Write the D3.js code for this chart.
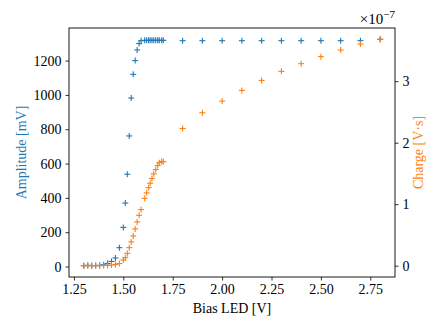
<!DOCTYPE html>
<html>
<head>
<meta charset="utf-8">
<script src="https://cdn.jsdelivr.net/npm/d3@7"></script>
<style>
  html, body { margin: 0; padding: 0; background: #fff; }
  svg { display: block; }
  text { font-family: "Liberation Serif", "DejaVu Serif", serif; }
</style>
</head>
<body>
<svg id="chart" width="443" height="332"></svg>
<script>
// ---- data ----
const biasLED = [1.30,1.32,1.34,1.36,1.38,1.40,1.42,1.44,1.46,1.48,
                 1.50,1.51,1.52,1.53,1.54,1.55,1.56,1.57,1.58,1.59,
                 1.608,1.618,1.628,1.636,1.645,1.654,1.664,1.674,1.682,1.694,1.702,
                 1.8,1.9,2.0,2.1,2.2,2.3,2.4,2.5,2.6,2.7,2.8];
const amplitude = [5,7,5,6,7,10,18,30,50,110,
                   228,370,538,761,982,1120,1200,1262,1299,1316,
                   1318,1318,1318,1318,1318,1318,1318,1318,1318,1318,1318,
                   1316,1316,1316,1316,1316,1316,1316,1316,1316,1316,1324];
// charge in units of 1e-7 V·s
const chargeE7 = [0,0,0,0,0,0.003,0.005,0.01,0.02,0.035,
                  0.093,0.13,0.2,0.293,0.386,0.484,0.598,0.712,0.819,0.912,
                  1.096,1.184,1.27,1.34,1.417,1.493,1.564,1.629,1.675,1.695,1.69,
                  2.231,2.487,2.676,2.85,3.013,3.16,3.285,3.399,3.507,3.604,3.681];
const xTicks = [1.25,1.50,1.75,2.00,2.25,2.50,2.75];
const yLeftTicks = [0,200,400,600,800,1000,1200];
const yRightTicks = [0,1,2,3];
const xLabel = "Bias LED [V]";
const yLeftLabel = "Amplitude [mV]";
const yRightLabel = "Charge [V·s]";

// ---- layout ----
const margin = {left: 69, right: 48, top: 28, bottom: 55};
const W = 443, H = 332;
const pw = W - margin.left - margin.right;
const ph = H - margin.top - margin.bottom;
const blue = "#1f77b4", orange = "#ff7f0e";

function padded(arr) {
  const [a, b] = d3.extent(arr);
  const p = (b - a) * 0.05;
  return [a - p, b + p];
}

const x = d3.scaleLinear().domain(padded(biasLED)).range([0, pw]);
const yL = d3.scaleLinear().domain(padded(amplitude)).range([ph, 0]);
const yR = d3.scaleLinear().domain(padded(chargeE7)).range([ph, 0]);

const svg = d3.select("#chart");
const g = svg.append("g").attr("transform", `translate(${margin.left},${margin.top})`);

// axes
function styleAxis(sel) {
  sel.selectAll(".domain").remove();
  sel.selectAll(".tick line").attr("stroke", "#000").attr("stroke-width", 0.8);
  sel.selectAll(".tick text").attr("fill", "#000").style("font-size", "14px")
     .style("font-family", '"Liberation Serif", "DejaVu Serif", serif');
}
const gx = g.append("g").attr("transform", `translate(0,${ph})`)
  .call(d3.axisBottom(x).tickValues(xTicks).tickFormat(d3.format(".2f")).tickSizeOuter(0).tickSize(3.5).tickPadding(4));
styleAxis(gx);
const gyl = g.append("g")
  .call(d3.axisLeft(yL).tickValues(yLeftTicks).tickFormat(d3.format("d")).tickSizeOuter(0).tickSize(3.5).tickPadding(4));
styleAxis(gyl);
const gyr = g.append("g").attr("transform", `translate(${pw},0)`)
  .call(d3.axisRight(yR).tickValues(yRightTicks).tickFormat(d3.format("d")).tickSizeOuter(0).tickSize(3.5).tickPadding(4));
styleAxis(gyr);

// markers
function plus(sel, color) {
  const s = 3;
  sel.append("line").attr("x1", -s).attr("x2", s).attr("y1", 0).attr("y2", 0);
  sel.append("line").attr("x1", 0).attr("x2", 0).attr("y1", -s).attr("y2", s);
  sel.attr("stroke", color).attr("stroke-width", 1.1);
}
const idx = d3.range(biasLED.length);
g.append("g").selectAll("g").data(idx).join("g")
  .attr("transform", i => `translate(${x(biasLED[i])},${yL(amplitude[i])})`)
  .each(function() { plus(d3.select(this), blue); });
g.append("g").selectAll("g").data(idx).join("g")
  .attr("transform", i => `translate(${x(biasLED[i])},${yR(chargeE7[i])})`)
  .each(function() { plus(d3.select(this), orange); });

// frame
g.append("rect").attr("x", 0).attr("y", 0).attr("width", pw).attr("height", ph)
  .attr("fill", "none").attr("stroke", "#000").attr("stroke-width", 0.9);

// labels
svg.append("text").attr("x", margin.left + pw / 2).attr("y", 313)
  .attr("text-anchor", "middle").style("font-size", "14px").attr("fill", "#000").text(xLabel);
svg.append("text").attr("transform", `translate(26,${margin.top + ph / 2}) rotate(-90)`)
  .attr("text-anchor", "middle").style("font-size", "14px").attr("fill", blue).text(yLeftLabel);
svg.append("text").attr("transform", `translate(423,${margin.top + ph / 2}) rotate(-90)`)
  .attr("text-anchor", "middle").style("font-size", "14px").attr("fill", orange).text(yRightLabel);

// offset text ×10^-7
const off = svg.append("text").attr("x", margin.left + pw).attr("y", 24)
  .attr("text-anchor", "end").style("font-size", "15px").attr("fill", "#000");
off.append("tspan").text("×10");
off.append("tspan").attr("dy", -6).style("font-size", "11px").text("−7");
</script>
</body>
</html>
